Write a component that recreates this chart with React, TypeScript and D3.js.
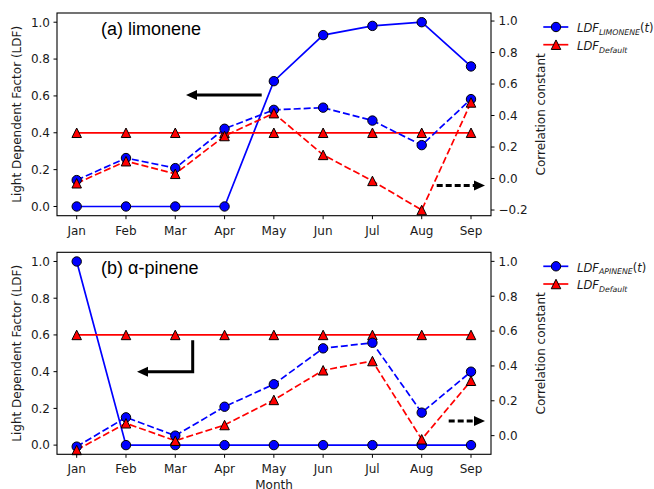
import React from "react";
import * as d3 from "d3";

const months = ["Jan", "Feb", "Mar", "Apr", "May", "Jun", "Jul", "Aug", "Sep"];

// Panel (a) limonene
const limLDF = [0, 0, 0, 0, 0.68, 0.93, 0.98, 1.0, 0.76];
const limDefault = [0.4, 0.4, 0.4, 0.4, 0.4, 0.4, 0.4, 0.4, 0.4];
const limCorrLDF = [-0.01, 0.13, 0.066, 0.316, 0.436, 0.45, 0.368, 0.212, 0.504];
const limCorrDefault = [-0.03, 0.11, 0.03, 0.27, 0.415, 0.15, -0.015, -0.2, 0.483];

// Panel (b) alpha-pinene
const apiLDF = [1.0, 0, 0, 0, 0, 0, 0, 0, 0];
const apiDefault = [0.6, 0.6, 0.6, 0.6, 0.6, 0.6, 0.6, 0.6, 0.6];
const apiCorrLDF = [-0.063, 0.105, 0.0, 0.166, 0.295, 0.501, 0.533, 0.132, 0.367];
const apiCorrDefault = [-0.082, 0.071, -0.029, 0.061, 0.205, 0.375, 0.428, -0.021, 0.315];

const leftTicks = [0, 0.2, 0.4, 0.6, 0.8, 1.0];
const rightTicksA = [-0.2, 0, 0.2, 0.4, 0.6, 0.8, 1.0];
const rightTicksB = [0, 0.2, 0.4, 0.6, 0.8, 1.0];

const FONT = "DejaVu Sans";
const BLUE = "#0000ff";
const RED = "#ff0000";
const TXT = "#1a1a1a";

const X0 = 57;
const X1 = 491;

const fmt = (v: number) => {
  const s = Math.abs(v).toFixed(1);
  return v < -1e-9 ? "\u2212" + s : s;
};

function Triangle({ x, y, s = 9.5 }: { x: number; y: number; s?: number }) {
  const h = s / 2;
  return (
    <path
      d={`M${x},${y - h}L${x - h},${y + h}L${x + h},${y + h}Z`}
      fill={RED}
      stroke="#000"
      strokeWidth={1}
    />
  );
}

function Circle({ x, y }: { x: number; y: number }) {
  return <circle cx={x} cy={y} r={4.7} fill={BLUE} stroke="#000" strokeWidth={1} />;
}

type PanelProps = {
  top: number;
  bottom: number;
  rightDomain: [number, number];
  rightTicks: number[];
  ldf: number[];
  def: number[];
  corrLdf: number[];
  corrDef: number[];
  title: string;
  legendSub: string;
  showXLabel: boolean;
  arrow: "straight" | "elbow";
};

function Panel(p: PanelProps) {
  const x = d3.scalePoint<string>().domain(months).range([76.7, 471]);
  const yL = d3.scaleLinear().domain([-0.05, 1.05]).range([p.bottom, p.top]);
  const yR = d3.scaleLinear().domain(p.rightDomain).range([p.bottom, p.top]);
  const lineL = d3
    .line<number>()
    .x((_, i) => x(months[i])!)
    .y((d) => yL(d));
  const lineR = d3
    .line<number>()
    .x((_, i) => x(months[i])!)
    .y((d) => yR(d));
  const midY = (p.top + p.bottom) / 2;
  const legY = p.top + 14;

  return (
    <g fontFamily={FONT}>
      {/* solid LDF lines (left axis) */}
      <path d={lineL(p.ldf)!} fill="none" stroke={BLUE} strokeWidth={1.7} />
      <path d={lineL(p.def)!} fill="none" stroke={RED} strokeWidth={1.7} />
      {p.ldf.map((v, i) => (
        <Circle key={"c" + i} x={x(months[i])!} y={yL(v)} />
      ))}
      {p.def.map((v, i) => (
        <Triangle key={"t" + i} x={x(months[i])!} y={yL(v)} />
      ))}
      {/* dashed correlation lines (right axis) */}
      <path d={lineR(p.corrLdf)!} fill="none" stroke={BLUE} strokeWidth={1.7} strokeDasharray="7,3" />
      <path d={lineR(p.corrDef)!} fill="none" stroke={RED} strokeWidth={1.7} strokeDasharray="7,3" />
      {p.corrLdf.map((v, i) => (
        <Circle key={"cc" + i} x={x(months[i])!} y={yR(v)} />
      ))}
      {p.corrDef.map((v, i) => (
        <Triangle key={"ct" + i} x={x(months[i])!} y={yR(v)} />
      ))}

      {/* frame */}
      <rect x={X0} y={p.top} width={X1 - X0} height={p.bottom - p.top} fill="none" stroke="#000" strokeWidth={1.1} />

      {/* left ticks */}
      {leftTicks.map((t) => (
        <g key={"lt" + t}>
          <line x1={X0 - 3.5} x2={X0} y1={yL(t)} y2={yL(t)} stroke="#000" strokeWidth={1} />
          <text x={X0 - 7} y={yL(t)} dy="0.36em" textAnchor="end" fontSize={12} fill={TXT}>
            {fmt(t)}
          </text>
        </g>
      ))}
      {/* right ticks */}
      {p.rightTicks.map((t) => (
        <g key={"rt" + t}>
          <line x1={X1} x2={X1 + 3.5} y1={yR(t)} y2={yR(t)} stroke="#000" strokeWidth={1} />
          <text x={X1 + 7.5} y={yR(t)} dy="0.36em" textAnchor="start" fontSize={12} fill={TXT}>
            {fmt(t)}
          </text>
        </g>
      ))}
      {/* x ticks */}
      {months.map((m) => (
        <g key={"xt" + m}>
          <line x1={x(m)!} x2={x(m)!} y1={p.bottom} y2={p.bottom + 3.5} stroke="#000" strokeWidth={1} />
          <text x={x(m)!} y={p.bottom + 18.8} textAnchor="middle" fontSize={12} fill={TXT}>
            {m}
          </text>
        </g>
      ))}

      {/* axis labels */}
      <text transform={`translate(21,${midY}) rotate(-90)`} textAnchor="middle" fontSize={12} fill={TXT}>
        Light Dependent Factor (LDF)
      </text>
      <text transform={`translate(544.5,${midY}) rotate(-90)`} textAnchor="middle" fontSize={12} fill={TXT}>
        Correlation constant
      </text>
      {p.showXLabel && (
        <text x={274} y={p.bottom + 35} textAnchor="middle" fontSize={12} fill={TXT}>
          Month
        </text>
      )}

      {/* title */}
      <text x={101} y={p.top + 21.7} fontFamily="Liberation Sans" fontSize={18} fill="#000">
        {p.title}
      </text>

      {/* arrows */}
      {p.arrow === "straight" ? (
        <g>
          <line x1={261.7} x2={195} y1={p.top + 82} y2={p.top + 82} stroke="#000" strokeWidth={3} />
          <path d={`M186,${p.top + 82}L197,${p.top + 77}L197,${p.top + 87}Z`} fill="#000" />
        </g>
      ) : (
        <g>
          <path
            d={`M192.7,${p.top + 88}L192.7,${p.top + 119.5}L146,${p.top + 119.5}`}
            fill="none"
            stroke="#000"
            strokeWidth={3}
          />
          <path d={`M137,${p.top + 119.5}L148,${p.top + 114.5}L148,${p.top + 124.5}Z`} fill="#000" />
        </g>
      )}
      {(() => {
        const ay = p.arrow === "straight" ? p.top + 172.5 : p.top + 168.7;
        const ax0 = p.arrow === "straight" ? 436.7 : 448.7;
        return (
          <g>
            <line x1={ax0} x2={476} y1={ay} y2={ay} stroke="#000" strokeWidth={3} strokeDasharray="6,3" />
            <path d={`M485,${ay}L474,${ay - 5}L474,${ay + 5}Z`} fill="#000" />
          </g>
        );
      })()}

      {/* legend */}
      <g>
        <line x1={543.3} x2={568.3} y1={legY} y2={legY} stroke={BLUE} strokeWidth={1.7} />
        <Circle x={556} y={legY} />
        <text x={577} y={legY + 5.3} fontSize={11.5} fill={TXT}>
          <tspan fontStyle="italic">LDF</tspan>
          <tspan fontStyle="italic" fontSize={7.8} dy={2.6}>
            {p.legendSub}
          </tspan>
          <tspan dy={-2.6}>(</tspan>
          <tspan fontStyle="italic">t</tspan>
          <tspan>)</tspan>
        </text>
        <line x1={543.3} x2={568.3} y1={legY + 17.7} y2={legY + 17.7} stroke={RED} strokeWidth={1.7} />
        <Triangle x={556} y={legY + 17.7} />
        <text x={577} y={legY + 23} fontSize={11.5} fill={TXT}>
          <tspan fontStyle="italic">LDF</tspan>
          <tspan fontStyle="italic" fontSize={7.8} dy={2.6}>
            Default
          </tspan>
        </text>
      </g>
    </g>
  );
}

export default function App() {
  return (
    <svg width={654} height={489} style={{ position: "absolute", left: 0, top: 0, background: "#fff" }}>
      <rect width={654} height={489} fill="#fff" />
      <Panel
        top={13}
        bottom={215.7}
        rightDomain={[-0.236, 1.051]}
        rightTicks={rightTicksA}
        ldf={limLDF}
        def={limDefault}
        corrLdf={limCorrLDF}
        corrDef={limCorrDefault}
        title="(a) limonene"
        legendSub="LIMONENE"
        showXLabel={false}
        arrow="straight"
      />
      <Panel
        top={252.3}
        bottom={454.3}
        rightDomain={[-0.107, 1.052]}
        rightTicks={rightTicksB}
        ldf={apiLDF}
        def={apiDefault}
        corrLdf={apiCorrLDF}
        corrDef={apiCorrDefault}
        title="(b) α-pinene"
        legendSub="APINENE"
        showXLabel={true}
        arrow="elbow"
      />
    </svg>
  );
}
